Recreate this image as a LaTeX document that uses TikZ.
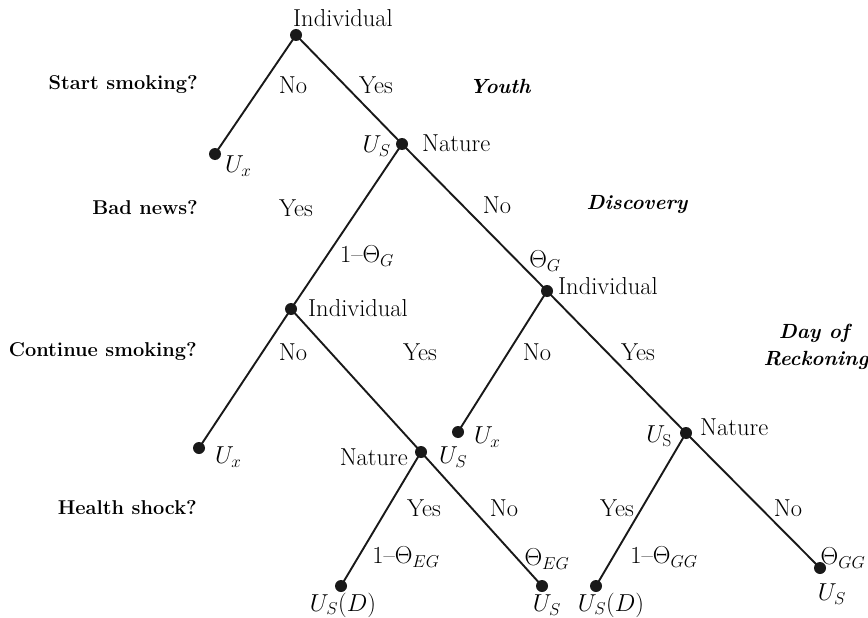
\documentclass[tikz,border=0pt]{standalone}
\usepackage{fix-cm}
\begin{document}
\begin{tikzpicture}[x=1pt,y=-1pt,
  dot/.style={circle,fill=black!90,inner sep=0pt,minimum size=12pt},
  txt/.style={inner sep=0pt,font=\fontsize{24.5}{28}\selectfont},
  qlabel/.style={inner sep=0pt,anchor=east,font=\fontsize{20}{24}\selectfont\bfseries},
  era/.style={inner sep=0pt,font=\fontsize{20.5}{24}\selectfont\bfseries\itshape},
  branch/.style={line width=1.9pt,black!90}]
\useasboundingbox (0,0) rectangle (868,618);

% decision / chance nodes
\node[dot] (A) at (296,35) {};
\node[dot] (B) at (215,154) {};
\node[dot] (C) at (402,144) {};
\node[dot] (D) at (291,309) {};
\node[dot] (E) at (547,291) {};
\node[dot] (F) at (199,448) {};
\node[dot] (G) at (421,452) {};
\node[dot] (H) at (458,432) {};
\node[dot] (I) at (686,433) {};
\node[dot] (J) at (341,586) {};
\node[dot] (K) at (542,586) {};
\node[dot] (L) at (596,586) {};
\node[dot] (M) at (820,568) {};

% branches
\draw[branch] (A.center) -- (B.center);
\draw[branch] (A.center) -- (C.center);
\draw[branch] (C.center) -- (D.center);
\draw[branch] (C.center) -- (E.center);
\draw[branch] (D.center) -- (F.center);
\draw[branch] (D.center) -- (G.center);
\draw[branch] (E.center) -- (H.center);
\draw[branch] (E.center) -- (I.center);
\draw[branch] (G.center) -- (J.center);
\draw[branch] (G.center) -- (K.center);
\draw[branch] (I.center) -- (L.center);
\draw[branch] (I.center) -- (M.center);

% node labels
\node[txt,anchor=west] (lA) at (293,18) {Individual};
\node[txt,anchor=west] (lB) at (225,166) {$U_x$};
\node[txt,anchor=east] (lC1) at (391,146) {$U_S$};
\node[txt,anchor=west] (lC2) at (422,143) {Nature};
\node[txt,anchor=west] (lD) at (308,308) {Individual};
\node[txt,anchor=west] (lE) at (558,286) {Individual};
\node[txt,anchor=west] (lF) at (215,457) {$U_x$};
\node[txt,anchor=west] (lH) at (474,437) {$U_x$};
\node[txt,anchor=east] (lG1) at (408,457) {Nature};
\node[txt,anchor=west] (lG2) at (439,457) {$U_S$};
\node[txt,anchor=east] (lI1) at (672,436) {$U_\mathrm{S}$};
\node[txt,anchor=west] (lI2) at (700,427) {Nature};
\node[txt] (lJ) at (343,605) {$U_S(D)$};
\node[txt] (lK) at (547,605) {$U_S$};
\node[txt] (lL) at (611,605) {$U_S(D)$};
\node[txt] (lM) at (832,594) {$U_S$};

% stage questions
\node[qlabel] (q1) at (198,85) {Start smoking?};
\node[qlabel] (q2) at (198,208) {Bad news?};
\node[qlabel] (q3) at (197,352) {Continue smoking?};
\node[qlabel] (q4) at (197,508) {Health shock?};

% stage names
\node[era] (e1) at (500,86) {Youth};
\node[era] (e2) at (637,205) {Discovery};
\node[era] (e3) at (814,333) {Day of};
\node[era] (e4) at (816,360) {Reckoning};

% branch labels
\node[txt] (b1) at (293,85) {No};
\node[txt] (b2) at (376,85) {Yes};
\node[txt] (b3) at (296,208) {Yes};
\node[txt] (b4) at (497,205) {No};
\node[txt] (b5) at (293,352) {No};
\node[txt] (b6) at (420,352) {Yes};
\node[txt] (b7) at (537,352) {No};
\node[txt] (b8) at (638,352) {Yes};
\node[txt] (b9) at (424,508) {Yes};
\node[txt] (b10) at (504,508) {No};
\node[txt] (b11) at (617,508) {Yes};
\node[txt] (b12) at (788,508) {No};

% probabilities
\node[txt] (p1) at (367,256) {1--$\Theta_G$};
\node[txt] (p2) at (545,261) {$\Theta_G$};
\node[txt] (p3) at (406,557) {1--$\Theta_{EG}$};
\node[txt] (p4) at (547,559) {$\Theta_{EG}$};
\node[txt] (p5) at (664,557) {1--$\Theta_{GG}$};
\node[txt] (p6) at (843,558) {$\Theta_{GG}$};
\end{tikzpicture}
\end{document}
